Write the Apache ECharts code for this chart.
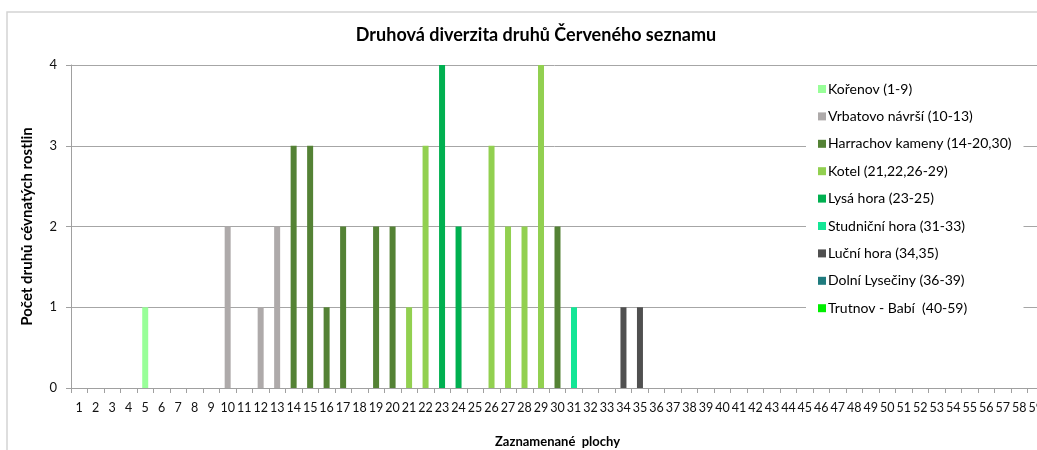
<!DOCTYPE html>
<html>
<head>
<meta charset="utf-8">
<title>Druhová diverzita druhů Červeného seznamu</title>
<script src="https://cdn.jsdelivr.net/npm/echarts@6/dist/echarts.min.js"></script>
<style>
  html, body { margin: 0; padding: 0; background: #fff; }
  #app { width: 1037px; height: 450px; }
</style>
</head>
<body>
<div id="app"></div>
<script>
// plochy 1..59
const plots = [];
for (let i = 1; i <= 59; i++) plots.push(String(i));

// počet druhů na plochu (index = plocha - 1)
const counts = [
    0, 0, 0, 0, 1, 0, 0, 0, 0, 2,
    0, 1, 2, 3, 3, 1, 2, 0, 2, 2,
    1, 3, 4, 2, 0, 3, 2, 2, 4, 2,
    1, 0, 0, 1, 1, 0, 0, 0, 0, 0,
    0, 0, 0, 0, 0, 0, 0, 0, 0, 0,
    0, 0, 0, 0, 0, 0, 0, 0, 0
];

const groupNames = [
    'Kořenov (1-9)',
    'Vrbatovo návrší (10-13)',
    'Harrachov kameny (14-20,30)',
    'Kotel (21,22,26-29)',
    'Lysá hora (23-25)',
    'Studniční hora (31-33)',
    'Luční hora (34,35)',
    'Dolní Lysečiny (36-39)',
    'Trutnov - Babí  (40-59)'
];
const groupColors = ['#99ff99', '#aeaaaa', '#548235', '#92d050', '#00b050', '#14e696', '#505050', '#1f7b7e', '#00ee00'];
const groupPlots = [
    [1, 2, 3, 4, 5, 6, 7, 8, 9],
    [10, 11, 12, 13],
    [14, 15, 16, 17, 18, 19, 20, 30],
    [21, 22, 26, 27, 28, 29],
    [23, 24, 25],
    [31, 32, 33],
    [34, 35],
    [36, 37, 38, 39],
    [40, 41, 42, 43, 44, 45, 46, 47, 48, 49, 50, 51, 52, 53, 54, 55, 56, 57, 58, 59]
];

const font = 'Lato, "Open Sans", sans-serif';

const series = groupNames.map((name, g) => ({
    name: name,
    type: 'bar',
    stack: 'plochy',
    barWidth: 6,
    itemStyle: { color: groupColors[g] },
    data: counts.map((v, i) => groupPlots[g].indexOf(i + 1) >= 0 ? v : '-')
}));

const myChart = echarts.init(document.getElementById('app'));

myChart.setOption({
    animation: false,
    textStyle: { fontFamily: font },
    graphic: [{
        type: 'rect',
        shape: { x: 7, y: 12, width: 1040, height: 450 },
        style: { fill: 'none', stroke: '#d4d4d4', lineWidth: 1.5 },
        silent: true
    }],
    title: {
        text: 'Druhová diverzita druhů Červeného seznamu',
        left: 531,
        textAlign: 'center',
        top: 21,
        textStyle: { fontSize: 18, fontWeight: 'bold', color: '#000', fontFamily: font }
    },
    legend: {
        orient: 'vertical',
        left: 806,
        top: 74,
        padding: [8, 12, 8, 12],
        backgroundColor: '#fff',
        itemWidth: 8,
        itemHeight: 8,
        itemGap: 13.4,
        icon: 'rect',
        textStyle: { fontSize: 14, color: '#000', lineHeight: 14, padding: [0, 0, 0, -3], fontFamily: font },
        data: groupNames
    },
    grid: { left: 71, top: 65, bottom: 62, right: -7, outerBoundsMode: 'none' },
    xAxis: {
        type: 'category',
        data: plots,
        name: 'Zaznamenané  plochy',
        nameLocation: 'middle',
        nameGap: 47,
        nameTextStyle: { fontSize: 13, fontWeight: 'bold', color: '#000' },
        axisLine: { lineStyle: { color: '#a0a0a0' } },
        axisTick: { show: true, length: 5, interval: 0, lineStyle: { color: '#a0a0a0' } },
        axisLabel: { interval: 0, fontSize: 12.5, color: '#111', margin: 13 }
    },
    yAxis: {
        type: 'value',
        min: 0,
        max: 4,
        interval: 1,
        name: 'Počet druhů cévnatých rostlin',
        nameLocation: 'middle',
        nameGap: 36,
        nameTextStyle: { fontSize: 15, fontWeight: 'bold', color: '#000' },
        axisLine: { show: true, lineStyle: { color: '#a0a0a0' } },
        axisTick: { show: true, length: 5, lineStyle: { color: '#a0a0a0' } },
        axisLabel: { fontSize: 13, color: '#111', margin: 14 },
        splitLine: { lineStyle: { color: '#a6a6a6' } }
    },
    series: series
});
</script>
</body>
</html>
